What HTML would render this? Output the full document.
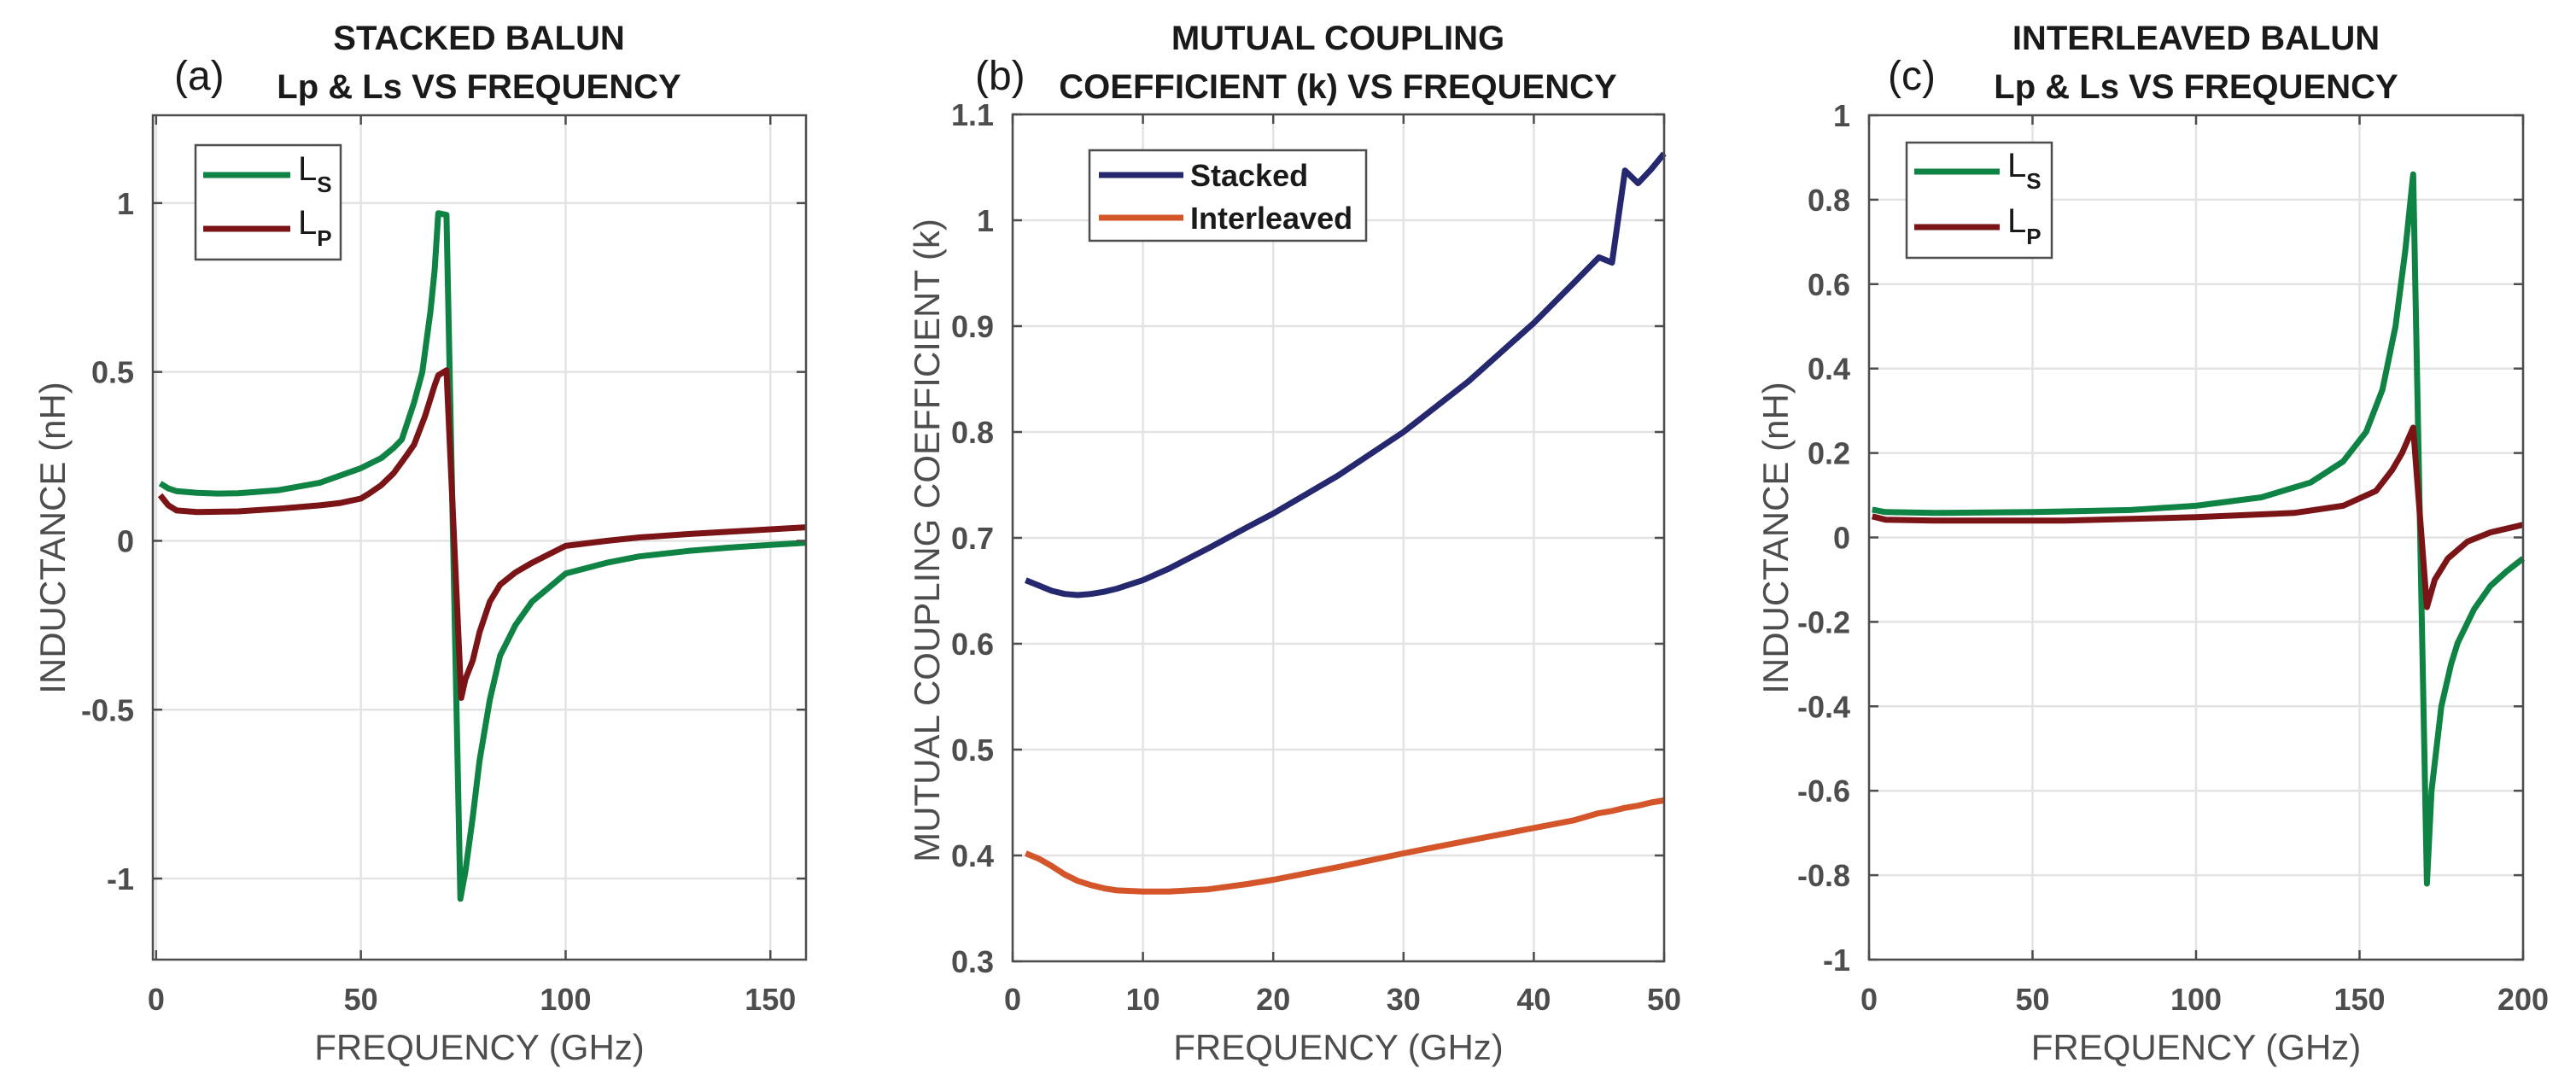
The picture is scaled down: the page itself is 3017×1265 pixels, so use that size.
<!DOCTYPE html>
<html><head><meta charset="utf-8"><style>
html,body{margin:0;padding:0;background:#fff;}
svg{display:block;font-family:"Liberation Sans",Arial,sans-serif;}
</style></head><body>
<svg id="fig" width="3017" height="1265" viewBox="0 0 3017 1265" xmlns="http://www.w3.org/2000/svg"></svg>
<script>
// Panel (a) stacked balun
const aFreqLs = [1,3,5,10,15,20,30,40,50,55,58,60,63,65,67,68,68.9,70.9,74.3,75.5,77.3,79,81.5,84,87.7,91.8,100,110,118,130,140,150,158.7];
const aLs     = [0.17,0.155,0.147,0.142,0.14,0.141,0.15,0.172,0.215,0.245,0.275,0.30,0.41,0.5,0.68,0.8,0.97,0.965,-1.06,-0.98,-0.82,-0.65,-0.47,-0.34,-0.25,-0.18,-0.097,-0.065,-0.046,-0.03,-0.02,-0.012,-0.006];
const aFreqLp = [1,3,5,10,20,30,40,45,50,52,55,58,61,63,65.7,68,68.9,70.9,74.5,75.5,77.3,79,81.5,84,87.7,91.8,100,110,118,130,140,150,158.7];
const aLp     = [0.135,0.105,0.09,0.085,0.087,0.095,0.105,0.112,0.125,0.14,0.165,0.2,0.25,0.285,0.37,0.46,0.49,0.505,-0.465,-0.41,-0.355,-0.27,-0.18,-0.13,-0.094,-0.065,-0.015,0.0,0.01,0.02,0.027,0.034,0.04];
const aXTicks = [0,50,100,150];
const aYTicks = [-1,-0.5,0,0.5,1];
const aYTickLabels = ["-1","-0.5","0","0.5","1"];
// Panel (b) coupling coefficient
const bFreq = [1,2,3,4,5,6,7,8,10,12,15,18,20,25,30,35,40,43,45,46,47,48,49,50];
const bStacked = [0.66,0.655,0.65,0.647,0.646,0.647,0.649,0.652,0.66,0.671,0.69,0.71,0.723,0.759,0.80,0.848,0.903,0.94,0.965,0.96,1.047,1.035,1.048,1.063];
const bInter = [0.402,0.397,0.39,0.382,0.376,0.372,0.369,0.367,0.366,0.366,0.368,0.373,0.377,0.389,0.402,0.414,0.426,0.433,0.44,0.442,0.445,0.447,0.45,0.452];
const bXTicks = [0,10,20,30,40,50];
const bYTicks = [0.3,0.4,0.5,0.6,0.7,0.8,0.9,1.0,1.1];
const bYTickLabels = ["0.3","0.4","0.5","0.6","0.7","0.8","0.9","1","1.1"];
// Panel (c) interleaved balun
const cFreqLs = [1,5,20,50,80,100,120,135,145,152,157,161,164,166.4,170.6,172,175,178,180,185,190,195,200];
const cLs     = [0.066,0.06,0.058,0.06,0.065,0.075,0.095,0.13,0.18,0.25,0.35,0.5,0.68,0.86,-0.82,-0.6,-0.4,-0.3,-0.25,-0.17,-0.115,-0.08,-0.05];
const cFreqLp = [1,5,20,60,100,130,145,155,160,163,166.4,170.6,173,177,183,190,200];
const cLp     = [0.05,0.042,0.04,0.04,0.048,0.058,0.075,0.11,0.16,0.2,0.26,-0.165,-0.1,-0.05,-0.01,0.012,0.03];
const cXTicks = [0,50,100,150,200];
const cYTicks = [-1,-0.8,-0.6,-0.4,-0.2,0,0.2,0.4,0.6,0.8,1];
const cYTickLabels = ["-1","-0.8","-0.6","-0.4","-0.2","0","0.2","0.4","0.6","0.8","1"];

const NS="http://www.w3.org/2000/svg";
const svg=document.getElementById('fig');
function mk(tag,attrs,parent){const e=document.createElementNS(NS,tag);for(const k in attrs)e.setAttribute(k,attrs[k]);(parent||svg).appendChild(e);return e;}

function panel(p){
  const g=mk('g',{});
  
  
  const sx=v=>p.L+(v-p.xmin)/(p.xmax-p.xmin)*(p.R-p.L);
  const sy=v=>p.B-(v-p.ymin)/(p.ymax-p.ymin)*(p.B-p.T);
  p.xt.forEach(v=>{const l=mk('line',{x1:sx(v),x2:sx(v),y1:p.T,y2:p.B,stroke:'#e3e3e3','stroke-width':2.5},g);
    
    });
  p.yt.forEach(v=>{const l=mk('line',{x1:p.L,x2:p.R,y1:sy(v),y2:sy(v),stroke:'#e3e3e3','stroke-width':2.5},g);
    
    });
  p.series.forEach(s=>{
    const d=s.x.map((v,i)=>(i?'L':'M')+sx(v).toFixed(1)+','+sy(s.y[i]).toFixed(1)).join(' ');
    const path=mk('path',{d:d,fill:'none',stroke:s.c,'stroke-width':7,'stroke-linejoin':'round'},g);
    
    
  });
  const box=mk('rect',{x:p.L,y:p.T,width:p.R-p.L,height:p.B-p.T,fill:'none',stroke:'#4d4d4d','stroke-width':2.5},g);
  
  
  p.xt.forEach(v=>{
    mk('line',{x1:sx(v),x2:sx(v),y1:p.B,y2:p.B-11,stroke:'#4d4d4d','stroke-width':2.5},g);
    mk('line',{x1:sx(v),x2:sx(v),y1:p.T,y2:p.T+11,stroke:'#4d4d4d','stroke-width':2.5},g);
    const t=mk('text',{x:sx(v),y:1183,'text-anchor':'middle','font-size':36,'font-weight':'bold',fill:'#4d4d4d'},g);
    t.textContent=String(v);
    
    
  });
  p.yt.forEach((v,i)=>{
    mk('line',{x1:p.L,x2:p.L+11,y1:sy(v),y2:sy(v),stroke:'#4d4d4d','stroke-width':2.5},g);
    mk('line',{x1:p.R,x2:p.R-11,y1:sy(v),y2:sy(v),stroke:'#4d4d4d','stroke-width':2.5},g);
    const t=mk('text',{x:p.L-22,y:sy(v)+13,'text-anchor':'end','font-size':36,'font-weight':'bold',fill:'#4d4d4d'},g);
    t.textContent=p.ytl[i];
    
    
  });
  const xl=mk('text',{x:(p.L+p.R)/2,y:1241,'text-anchor':'middle','font-size':42,fill:'#4d4d4d'},g);
  xl.textContent='FREQUENCY (GHz)';
  
  
  const yl=mk('text',{x:0,y:0,'text-anchor':'middle','font-size':42,fill:'#4d4d4d',transform:`translate(${p.ylx},${p.yly}) rotate(-90)`},g);
  yl.textContent=p.ylabel;
  
  
  p.title.forEach((s,i)=>{
    const t=mk('text',{x:p.tx,y:i?115:58,'text-anchor':'middle','font-size':40,'font-weight':'bold',fill:'#1a1a1a'},g);
    t.textContent=s;
    
    
  });
  const pl=mk('text',{x:p.plx,y:105,'font-size':48,fill:'#1a1a1a'},g);
  pl.textContent=p.plabel;
  
  
  const lg=mk('g',{},g);
  
  
  const lb=p.leg;
  mk('rect',{x:lb.x,y:lb.y,width:lb.w,height:lb.h,fill:'#fff',stroke:'#4d4d4d','stroke-width':2.5},lg);
  lb.items.forEach(it=>{
    const e=mk('g',{},lg);
    
    
    mk('line',{x1:lb.lx1,x2:lb.lx2,y1:it.y,y2:it.y,stroke:it.c,'stroke-width':7},e);
    const t=mk('text',{x:lb.tx,y:it.y+(it.sub?6:13),'font-size':lb.fs,'font-weight':it.sub?'normal':'bold',fill:'#1a1a1a'},e);
    t.textContent=it.t;
    if(it.sub){const ts=mk('tspan',{'font-size':26,'font-weight':'bold',dy:14},t);ts.textContent=it.sub;}
  });
}

panel({id:'stacked-balun',L:179,R:944,T:135,B:1124,xmin:-0.8,xmax:158.7,ymin:-1.24,ymax:1.26,
  xt:aXTicks,yt:aYTicks,ytl:aYTickLabels,ylabel:'INDUCTANCE (nH)',ylx:76,yly:630,
  title:['STACKED BALUN','Lp & Ls VS FREQUENCY'],tx:561,plabel:'(a)',plx:204,
  series:[{name:'ls-line',x:aFreqLs,y:aLs,c:'#0e8344'},{name:'lp-line',x:aFreqLp,y:aLp,c:'#7b1416'}],
  leg:{x:229,y:170,w:170,h:134,lx1:238,lx2:340,tx:349,fs:40,items:[{t:'L',sub:'S',y:205,c:'#0e8344'},{t:'L',sub:'P',y:268,c:'#7b1416'}]}});

panel({id:'coupling',L:1186,R:1949,T:134,B:1126,xmin:0,xmax:50,ymin:0.3,ymax:1.1,
  xt:bXTicks,yt:bYTicks,ytl:bYTickLabels,ylabel:'MUTUAL COUPLING COEFFICIENT (k)',ylx:1100,yly:633,
  title:['MUTUAL COUPLING','COEFFICIENT (k) VS FREQUENCY'],tx:1567,plabel:'(b)',plx:1142,
  series:[{name:'stacked-line',x:bFreq,y:bStacked,c:'#25286e'},{name:'interleaved-line',x:bFreq,y:bInter,c:'#d4552a'}],
  leg:{x:1276,y:176,w:324,h:106,lx1:1287,lx2:1386,tx:1394,fs:36,items:[{t:'Stacked',y:205,c:'#25286e'},{t:'Interleaved',y:255,c:'#d4552a'}]}});

panel({id:'interleaved-balun',L:2189,R:2955,T:135,B:1124,xmin:0,xmax:200,ymin:-1,ymax:1,
  xt:cXTicks,yt:cYTicks,ytl:cYTickLabels,ylabel:'INDUCTANCE (nH)',ylx:2094,yly:630,
  title:['INTERLEAVED BALUN','Lp & Ls VS FREQUENCY'],tx:2572,plabel:'(c)',plx:2211,
  series:[{name:'ls-line',x:cFreqLs,y:cLs,c:'#0e8344'},{name:'lp-line',x:cFreqLp,y:cLp,c:'#7b1416'}],
  leg:{x:2233,y:167,w:170,h:135,lx1:2242,lx2:2342,tx:2351,fs:40,items:[{t:'L',sub:'S',y:201,c:'#0e8344'},{t:'L',sub:'P',y:266,c:'#7b1416'}]}});
</script>
</body></html>
